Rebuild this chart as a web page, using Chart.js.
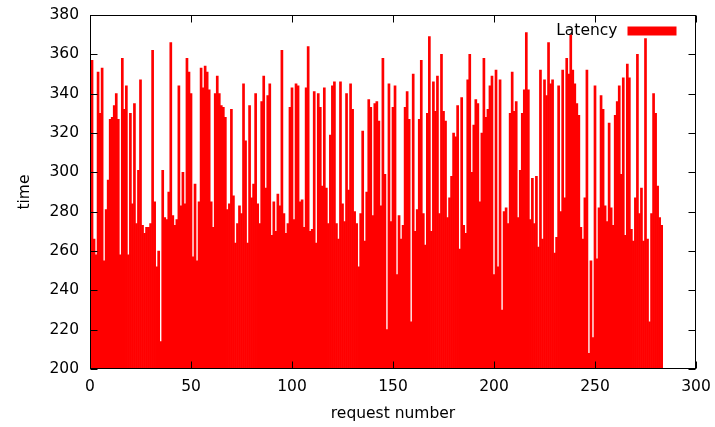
<!DOCTYPE html>
<html>
<head>
<meta charset="utf-8">
<script src="https://cdn.jsdelivr.net/npm/chart.js@4.4.1/dist/chart.umd.min.js"></script>
<style>
  html, body { margin: 0; padding: 0; background: #fff; }
  canvas { display: block; }
</style>
</head>
<body>
<canvas id="chart" width="715" height="427"></canvas>
<script>
// latency per request (request 1 .. 283)
const latency = [
  357, 266, 258, 351, 330, 353, 255, 281, 296, 327,
  328, 334, 340, 327, 258, 358, 332, 344, 258, 330,
  284, 335, 274, 301, 347, 273, 269, 272, 272, 274,
  362, 285, 252, 260, 214, 301, 277, 276, 290, 366,
  278, 273, 276, 344, 283, 300, 284, 358,
  351, 340, 257, 294, 255, 285, 353, 343, 354, 351,
  342, 285, 272, 340, 349, 340, 334, 333, 328, 281,
  284, 332, 288, 264, 274, 283, 279, 345, 316, 264,
  334, 287, 294, 340, 284, 274, 336, 349, 292, 339,
  345, 268, 285, 270, 289, 283, 362, 279,
  269, 274, 333, 343, 276, 345, 344, 285, 286, 272,
  343, 364, 270, 271, 341, 264, 340, 333, 293, 343,
  292, 274, 319, 344, 346, 274, 266, 346, 284, 275,
  340, 291, 345, 332, 280, 274, 252, 279, 321, 265,
  290, 337, 333, 278, 335, 336, 326, 283,
  358, 299, 220, 345, 275, 333, 344, 248, 278, 266,
  273, 333, 341, 327, 224, 350, 270, 281, 327, 357,
  279, 263, 330, 369, 270, 346, 331, 349, 279, 360,
  331, 326, 277, 287, 298, 320, 318, 334, 261, 338,
  273, 269, 347, 360, 300, 324, 337, 335,
  285, 320, 358, 328, 332, 344, 349, 248, 352, 252,
  347, 230, 280, 282, 274, 330, 351, 331, 336, 277,
  301, 330, 342, 371, 342, 276, 297, 274, 298, 262,
  352, 266, 347, 339, 366, 345, 347, 259, 267, 344,
  280, 352, 287, 358, 350, 370,
  352, 345, 335, 329, 272, 266, 287, 352, 208, 255,
  216, 344, 256, 282, 339, 332, 283, 275, 325, 282,
  273, 329, 336, 344, 299, 348, 268, 355, 348, 271,
  265, 287, 360, 279, 292, 265, 368, 266, 224, 279,
  340, 330, 293, 277, 273
];
const requestNumber = latency.map((_, i) => i + 1);

const xTicks = [0, 50, 100, 150, 200, 250, 300];
const yTicks = [200, 220, 240, 260, 280, 300, 320, 340, 360, 380];

const seriesLabel = 'Latency';
const xTitle = 'request number';
const yTitle = 'time';

const font = { family: "'DejaVu Sans', sans-serif", size: 15.5 };

// gnuplot look: box frame, inward mirrored ticks, key at top right
const gnuplotFrame = {
  id: 'gnuplotFrame',
  afterDatasetsDraw(chart) {
    const { ctx, chartArea: a, scales: { x, y } } = chart;
    const tick = 7;
    const L = Math.round(a.left) + 0.5, R = Math.round(a.right) - 0.5;
    const T = Math.round(a.top) + 0.5, B = Math.round(a.bottom) - 0.5;
    ctx.save();
    ctx.strokeStyle = '#000';
    ctx.lineWidth = 1;
    ctx.beginPath();
    x.ticks.forEach(t => {
      const px = Math.round(x.getPixelForValue(t.value)) + 0.5;
      ctx.moveTo(px, B); ctx.lineTo(px, B - tick);
      ctx.moveTo(px, T); ctx.lineTo(px, T + tick);
    });
    y.ticks.forEach(t => {
      const py = Math.round(y.getPixelForValue(t.value)) + 0.5;
      ctx.moveTo(L, py); ctx.lineTo(L + tick, py);
      ctx.moveTo(R, py); ctx.lineTo(R - tick, py);
    });
    ctx.stroke();
    ctx.strokeRect(L, T, R - L, B - T);

    // key
    const ds = chart.data.datasets[0];
    ctx.font = font.size + 'px ' + font.family;
    ctx.fillStyle = '#000';
    ctx.textAlign = 'right';
    ctx.textBaseline = 'middle';
    ctx.fillText(ds.label, R - 78, T + 15);
    ctx.fillStyle = ds.backgroundColor;
    ctx.fillRect(R - 68, T + 11, 49, 9);
    ctx.restore();
  }
};

new Chart(document.getElementById('chart'), {
  type: 'bar',
  data: {
    datasets: [{
      label: seriesLabel,
      data: requestNumber.map((r, i) => ({ x: r, y: latency[i] })),
      backgroundColor: '#ff0000',
      borderWidth: 0,
      barPercentage: 1,
      categoryPercentage: 1
    }]
  },
  options: {
    responsive: false,
    animation: false,
    devicePixelRatio: 1,
    layout: { padding: { top: 15, right: 19, left: 0, bottom: 0 } },
    scales: {
      x: {
        type: 'linear',
        min: 0,
        max: 300,
        offset: false,
        afterBuildTicks: s => { s.ticks = xTicks.map(v => ({ value: v })); },
        afterFit: s => { s.height = 58; s.paddingLeft = 0; s.paddingRight = 0; },
        grid: { display: false, drawTicks: false, offset: false },
        border: { display: false },
        ticks: { font, color: '#000', padding: 9, maxRotation: 0 },
        title: { display: true, text: xTitle, font, color: '#000', padding: { top: 0, bottom: 4 } }
      },
      y: {
        min: 200,
        max: 380,
        afterBuildTicks: s => { s.ticks = yTicks.map(v => ({ value: v })); },
        afterFit: s => { s.width = 90; s.paddingTop = 0; s.paddingBottom = 0; },
        grid: { display: false, drawTicks: false },
        border: { display: false },
        ticks: { font, color: '#000', padding: 11 },
        title: { display: true, text: yTitle, font, color: '#000', padding: { top: 16, bottom: 0 } }
      }
    },
    plugins: {
      legend: { display: false },
      tooltip: { enabled: false }
    }
  },
  plugins: [gnuplotFrame]
});
</script>
</body>
</html>
